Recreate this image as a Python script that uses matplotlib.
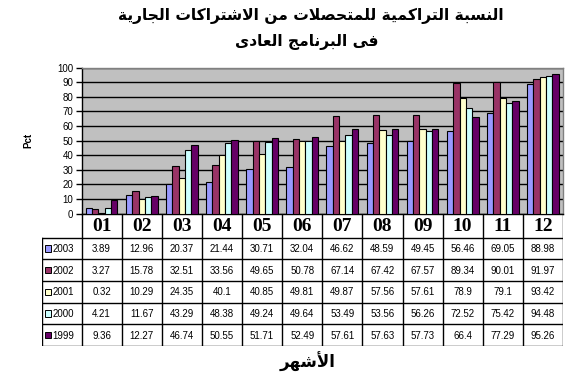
import matplotlib
matplotlib.use("Agg")
import matplotlib.pyplot as plt
import numpy as np
from matplotlib.patches import Rectangle

# ---------------- data ----------------
months = ['01', '02', '03', '04', '05', '06', '07', '08', '09', '10', '11', '12']
years = ['2003', '2002', '2001', '2000', '1999']
v2003 = [3.89, 12.96, 20.37, 21.44, 30.71, 32.04, 46.62, 48.59, 49.45, 56.46, 69.05, 88.98]
v2002 = [3.27, 15.78, 32.51, 33.56, 49.65, 50.78, 67.14, 67.42, 67.57, 89.34, 90.01, 91.97]
v2001 = [0.32, 10.29, 24.35, 40.1, 40.85, 49.81, 49.87, 57.56, 57.61, 78.9, 79.1, 93.42]
v2000 = [4.21, 11.67, 43.29, 48.38, 49.24, 49.64, 53.49, 53.56, 56.26, 72.52, 75.42, 94.48]
v1999 = [9.36, 12.27, 46.74, 50.55, 51.71, 52.49, 57.61, 57.63, 57.73, 66.4, 77.29, 95.26]
series = [v2003, v2002, v2001, v2000, v1999]
colors = ['#9999FF', '#993366', '#FFFFCC', '#CCFFFF', '#660066']
yticks = list(range(0, 101, 10))
title_l1 = 'النسبة التراكمية للمتحصلات من الاشتراكات الجارية'
title_l2 = 'فى البرنامج العادى'
xlabel = 'الأشهر'
ylabel = 'Pct'

# ---------------- minimal Arabic shaping ----------------
AR = {
    'ا': (0xFE8D, 0xFE8E, None, None),
    'أ': (0xFE83, 0xFE84, None, None),
    'ب': (0xFE8F, 0xFE90, 0xFE91, 0xFE92),
    'ة': (0xFE93, 0xFE94, None, None),
    'ت': (0xFE95, 0xFE96, 0xFE97, 0xFE98),
    'ج': (0xFE9D, 0xFE9E, 0xFE9F, 0xFEA0),
    'ح': (0xFEA1, 0xFEA2, 0xFEA3, 0xFEA4),
    'د': (0xFEA9, 0xFEAA, None, None),
    'ر': (0xFEAD, 0xFEAE, None, None),
    'س': (0xFEB1, 0xFEB2, 0xFEB3, 0xFEB4),
    'ش': (0xFEB5, 0xFEB6, 0xFEB7, 0xFEB8),
    'ص': (0xFEB9, 0xFEBA, 0xFEBB, 0xFEBC),
    'ع': (0xFEC9, 0xFECA, 0xFECB, 0xFECC),
    'ف': (0xFED1, 0xFED2, 0xFED3, 0xFED4),
    'ك': (0xFED9, 0xFEDA, 0xFEDB, 0xFEDC),
    'ل': (0xFEDD, 0xFEDE, 0xFEDF, 0xFEE0),
    'م': (0xFEE1, 0xFEE2, 0xFEE3, 0xFEE4),
    'ن': (0xFEE5, 0xFEE6, 0xFEE7, 0xFEE8),
    'ه': (0xFEE9, 0xFEEA, 0xFEEB, 0xFEEC),
    'و': (0xFEED, 0xFEEE, None, None),
    'ى': (0xFEEF, 0xFEF0, None, None),
    'ي': (0xFEF1, 0xFEF2, 0xFEF3, 0xFEF4),
}
LAM_ALEF = {'ا': (0xFEFB, 0xFEFC), 'أ': (0xFEF7, 0xFEF8)}


def shape(s):
    toks = []
    i = 0
    while i < len(s):
        c = s[i]
        if c == 'ل' and i + 1 < len(s) and s[i + 1] in LAM_ALEF:
            toks.append(('LA', s[i + 1]))
            i += 2
        else:
            toks.append((c, None))
            i += 1

    def joins_next(t):
        if t[0] == 'LA':
            return False
        f = AR.get(t[0])
        return f is not None and f[2] is not None

    def is_ar(t):
        return t[0] == 'LA' or t[0] in AR

    out = []
    for k, t in enumerate(toks):
        prev = toks[k - 1] if k > 0 else None
        nxt = toks[k + 1] if k + 1 < len(toks) else None
        cp = prev is not None and joins_next(prev) and is_ar(t)
        cn = nxt is not None and joins_next(t) and is_ar(nxt)
        if t[0] == 'LA':
            iso, fin = LAM_ALEF[t[1]]
            out.append(chr(fin if cp else iso))
        elif t[0] in AR:
            f = AR[t[0]]
            if cp and cn:
                g = f[3]
            elif cp:
                g = f[1]
            elif cn:
                g = f[2]
            else:
                g = f[0]
            out.append(chr(g))
        else:
            out.append(t[0])
    return ''.join(reversed(out))


# ---------------- figure ----------------
W, H = 578, 388
fig = plt.figure(figsize=(W / 100, H / 100), dpi=100)
fig.patch.set_facecolor('white')

def fx(px):
    return px / W

def fy(py):
    return 1 - py / H

ax_l, ax_r, ax_t, ax_b = 81.5, 563.0, 67.5, 213.7
ax = fig.add_axes([fx(ax_l), fy(ax_b), fx(ax_r - ax_l), (ax_b - ax_t) / H])
ax.set_facecolor('#C0C0C0')

n = len(months)
x = np.arange(n)
bw = 0.158
for i, (vals, col) in enumerate(zip(series, colors)):
    ax.bar(x + (i - 2) * bw, vals, width=bw, color=col, edgecolor='black',
           linewidth=0.8, zorder=3)

ax.set_xlim(-0.5, n - 0.5)
ax.set_ylim(0, 100)
ax.set_yticks(yticks)
ax.set_yticklabels([str(t) for t in yticks], fontsize=7, family='Liberation Sans')
ax.yaxis.grid(True, color='black', linewidth=1.0, zorder=1)
ax.set_axisbelow(True)
ax.set_xticks([])
ax.tick_params(axis='y', direction='out', length=4, width=1, pad=2, color='black')
for s in ['top', 'right']:
    ax.spines[s].set_color('#808080')
    ax.spines[s].set_linewidth(1)
for s in ['left', 'bottom']:
    ax.spines[s].set_color('black')
    ax.spines[s].set_linewidth(1)

# ---------------- table ----------------
tb_l, tb_b = 42.0, 346.0
hdr_h = 24.0
unit = (ax_r - ax_l) / n
lab_w = (ax_l - tb_l) / unit
tax = fig.add_axes([fx(tb_l), fy(tb_b), fx(ax_r - tb_l), (tb_b - ax_b) / H])
tax.set_xlim(-0.5 - lab_w, n - 0.5)
total_h = tb_b - ax_b
tax.set_ylim(total_h, 0)
tax.axis('off')
row_h = (total_h - hdr_h) / len(years)
lw = 1.0
for k in range(n + 1):
    tax.plot([k - 0.5, k - 0.5], [0, total_h], color='black', lw=lw, solid_capstyle='butt')
tax.plot([-0.5 - lab_w, -0.5 - lab_w], [hdr_h, total_h], color='black', lw=lw)
for j in range(len(years) + 1):
    yy = hdr_h + j * row_h
    tax.plot([-0.5 - lab_w, n - 0.5], [yy, yy], color='black', lw=lw)
for k, m in enumerate(months):
    tax.text(k, hdr_h / 2 + 1, m, ha='center', va='center', fontsize=14,
             fontweight='bold', family='Liberation Serif')
for j, (yr, vals, col) in enumerate(zip(years, series, colors)):
    yc = hdr_h + (j + 0.5) * row_h
    tax.add_patch(Rectangle((-0.5 - lab_w + 0.08, yc - 3.2), 0.15, 6.4,
                            facecolor=col, edgecolor='black', lw=0.7))
    tax.text(-0.5 - lab_w + 0.26, yc + 0.5, yr, ha='left', va='center', fontsize=7,
             family='Liberation Sans')
    for k, v in enumerate(vals):
        tax.text(k, yc + 0.5, str(v), ha='center', va='center', fontsize=7,
                 family='Liberation Sans')

# ---------------- labels ----------------
arfam = ['DejaVu Sans']
fig.text(fx(311), fy(16), shape(title_l1), ha='center', va='center', fontsize=11.2,
         fontweight='bold', family=arfam)
fig.text(fx(307), fy(42), shape(title_l2), ha='center', va='center', fontsize=11.2,
         fontweight='bold', family=arfam)
fig.text(fx(308), fy(362), shape(xlabel), ha='center', va='center', fontsize=12,
         fontweight='bold', family=arfam)
fig.text(fx(28), fy(140), ylabel, ha='center', va='center', rotation=90, fontsize=7,
         fontweight='bold', family='Liberation Sans')

fig.savefig('out.png', dpi=100)
